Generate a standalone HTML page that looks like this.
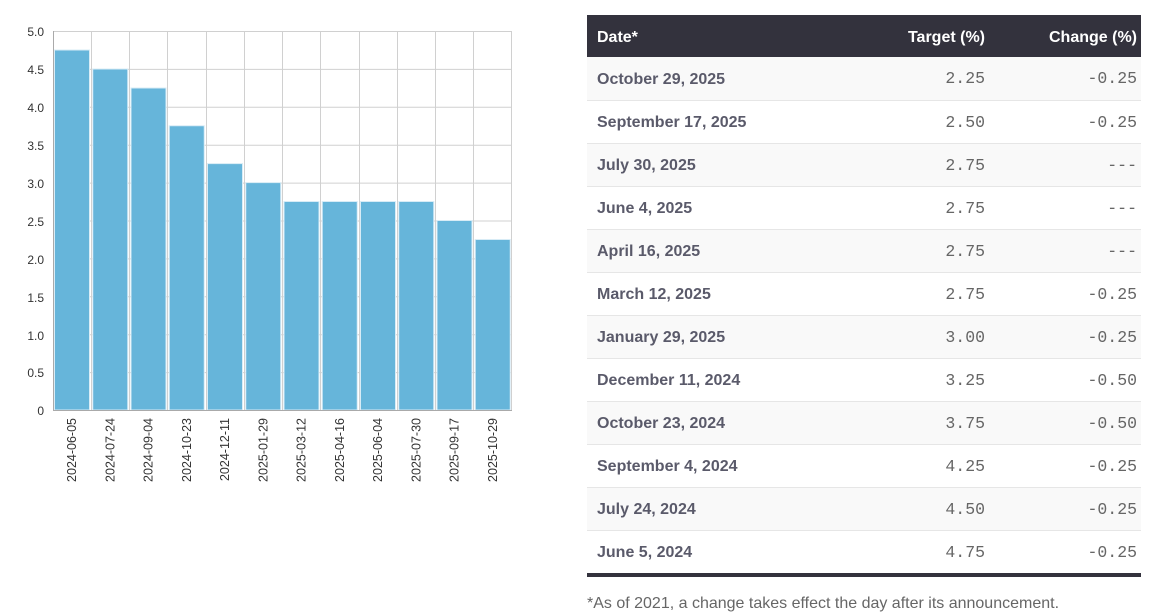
<!DOCTYPE html>
<html><head><meta charset="utf-8"><style>
body{margin:0;width:1171px;height:616px;background:#fff;overflow:hidden;position:relative;font-family:"Liberation Sans",sans-serif}
svg{position:absolute;left:0;top:0}
table{position:absolute;left:587px;top:15px;width:554px;border-collapse:collapse;color:#5a5a6a;table-layout:fixed}
th{background:#33323d;color:#fff;height:42px;font-weight:bold;font-size:16px;padding:3px 4px 0 10px;text-align:right;box-sizing:border-box}
th:first-child{text-align:left}
td{height:43px;box-sizing:border-box;border-bottom:1px solid #e6e6e6;padding:3px 4px 0 10px;font-size:16px}
td:first-child{font-weight:bold;text-align:left}
td.n{text-align:right;font-family:"Liberation Mono",monospace;font-size:16.5px;color:#666;padding-top:1px}
tr:nth-child(even) td{background:#f9f9f9}
tr:last-child td{border-bottom:4px solid #33323d;height:45px}
.note{position:absolute;left:587px;top:595px;font-size:16px;color:#666}
</style></head><body>
<svg width="580" height="616" font-family="Liberation Sans, sans-serif" font-size="12" fill="#333">
<g stroke="#d0d0d0" stroke-width="1">
<line x1="53" y1="31.5" x2="512" y2="31.5"/><line x1="53" y1="69.4" x2="512" y2="69.4"/><line x1="53" y1="107.3" x2="512" y2="107.3"/><line x1="53" y1="145.2" x2="512" y2="145.2"/><line x1="53" y1="183.1" x2="512" y2="183.1"/><line x1="53" y1="221" x2="512" y2="221"/><line x1="53" y1="258.9" x2="512" y2="258.9"/><line x1="53" y1="296.8" x2="512" y2="296.8"/><line x1="53" y1="334.7" x2="512" y2="334.7"/><line x1="53" y1="372.6" x2="512" y2="372.6"/>
<line x1="91.5" y1="31" x2="91.5" y2="410"/><line x1="129.5" y1="31" x2="129.5" y2="410"/><line x1="167.5" y1="31" x2="167.5" y2="410"/><line x1="206.5" y1="31" x2="206.5" y2="410"/><line x1="244.5" y1="31" x2="244.5" y2="410"/><line x1="282.5" y1="31" x2="282.5" y2="410"/><line x1="320.5" y1="31" x2="320.5" y2="410"/><line x1="359.5" y1="31" x2="359.5" y2="410"/><line x1="397.5" y1="31" x2="397.5" y2="410"/><line x1="435.5" y1="31" x2="435.5" y2="410"/><line x1="473.5" y1="31" x2="473.5" y2="410"/><line x1="511.5" y1="31" x2="511.5" y2="410"/>
</g>
<g fill="#66b5da" stroke="#d8ecf6" stroke-width="1">
<rect x="54.5" y="50" width="35" height="360"/>
<rect x="92.75" y="69" width="35" height="341"/>
<rect x="131" y="88" width="35" height="322"/>
<rect x="169.25" y="125.75" width="35" height="284.25"/>
<rect x="207.5" y="163.6" width="35" height="246.4"/>
<rect x="245.75" y="182.6" width="35" height="227.4"/>
<rect x="284" y="201.5" width="35" height="208.5"/>
<rect x="322.25" y="201.5" width="35" height="208.5"/>
<rect x="360.5" y="201.5" width="35" height="208.5"/>
<rect x="398.75" y="201.5" width="35" height="208.5"/>
<rect x="437" y="220.5" width="35" height="189.5"/>
<rect x="475.25" y="239.5" width="35" height="170.5"/>
</g>
<line x1="53.5" y1="31" x2="53.5" y2="410" stroke="#aaa"/>
<line x1="53" y1="410.5" x2="512" y2="410.5" stroke="#aaa"/>
<g text-anchor="end">
<text x="44" y="36">5.0</text><text x="44" y="74">4.5</text><text x="44" y="112">4.0</text><text x="44" y="150">3.5</text><text x="44" y="188">3.0</text><text x="44" y="226">2.5</text><text x="44" y="264">2.0</text><text x="44" y="302">1.5</text><text x="44" y="340">1.0</text><text x="44" y="377">0.5</text><text x="44" y="415">0</text>
</g>
<g text-anchor="end" font-size="12.5">
<text transform="translate(76,418) rotate(-90)">2024-06-05</text>
<text transform="translate(114.5,418) rotate(-90)">2024-07-24</text>
<text transform="translate(152.5,418) rotate(-90)">2024-09-04</text>
<text transform="translate(191,418) rotate(-90)">2024-10-23</text>
<text transform="translate(229,418) rotate(-90)">2024-12-11</text>
<text transform="translate(267.5,418) rotate(-90)">2025-01-29</text>
<text transform="translate(305.5,418) rotate(-90)">2025-03-12</text>
<text transform="translate(344,418) rotate(-90)">2025-04-16</text>
<text transform="translate(382,418) rotate(-90)">2025-06-04</text>
<text transform="translate(420.5,418) rotate(-90)">2025-07-30</text>
<text transform="translate(458.5,418) rotate(-90)">2025-09-17</text>
<text transform="translate(497,418) rotate(-90)">2025-10-29</text>
</g>
</svg>
<table>
<colgroup><col style="width:250px"><col style="width:152px"><col style="width:152px"></colgroup>
<tr><th>Date*</th><th>Target (%)</th><th>Change (%)</th></tr>
<tr><td>October 29, 2025</td><td class="n">2.25</td><td class="n">-0.25</td></tr>
<tr><td>September 17, 2025</td><td class="n">2.50</td><td class="n">-0.25</td></tr>
<tr><td>July 30, 2025</td><td class="n">2.75</td><td class="n">---</td></tr>
<tr><td>June 4, 2025</td><td class="n">2.75</td><td class="n">---</td></tr>
<tr><td>April 16, 2025</td><td class="n">2.75</td><td class="n">---</td></tr>
<tr><td>March 12, 2025</td><td class="n">2.75</td><td class="n">-0.25</td></tr>
<tr><td>January 29, 2025</td><td class="n">3.00</td><td class="n">-0.25</td></tr>
<tr><td>December 11, 2024</td><td class="n">3.25</td><td class="n">-0.50</td></tr>
<tr><td>October 23, 2024</td><td class="n">3.75</td><td class="n">-0.50</td></tr>
<tr><td>September 4, 2024</td><td class="n">4.25</td><td class="n">-0.25</td></tr>
<tr><td>July 24, 2024</td><td class="n">4.50</td><td class="n">-0.25</td></tr>
<tr><td>June 5, 2024</td><td class="n">4.75</td><td class="n">-0.25</td></tr>
</table>
<div class="note">*As of 2021, a change takes effect the day after its announcement.</div>
</body></html>
